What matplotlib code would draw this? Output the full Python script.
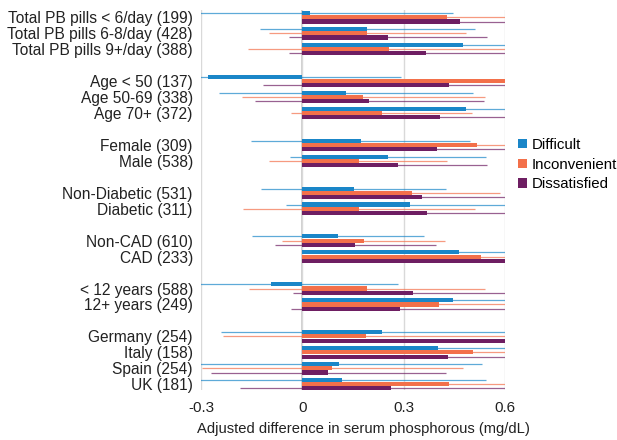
import numpy as np
import matplotlib
matplotlib.use("Agg")
import matplotlib.pyplot as plt

plt.rcParams['font.family'] = ['Liberation Sans', 'DejaVu Sans']

# --- Data ---
groups = [
    ["Total PB pills < 6/day (199)", "Total PB pills 6-8/day (428)", "Total PB pills 9+/day (388)"],
    ["Age < 50 (137)", "Age 50-69 (338)", "Age 70+ (372)"],
    ["Female (309)", "Male (538)"],
    ["Non-Diabetic (531)", "Diabetic (311)"],
    ["Non-CAD (610)", "CAD (233)"],
    ["< 12 years (588)", "12+ years (249)"],
    ["Germany (254)", "Italy (158)", "Spain (254)", "UK (181)"],
]

series = ["Difficult", "Inconvenient", "Dissatisfied"]
colors = ["#1a86c8", "#f3704a", "#6e1e62"]

difficult = [0.022, 0.193, 0.475, -0.279, 0.129, 0.486, 0.174, 0.255, 0.152, 0.319,
             0.106, 0.465, -0.092, 0.448, 0.235, 0.402, 0.110, 0.119]
difficult_lo = [-0.40, -0.126, 0.061, -0.40, -0.248, 0.196, -0.151, -0.038, -0.122, -0.048,
                -0.148, 0.032, -0.40, 0.096, -0.242, 0.017, -0.40, -0.40]
difficult_hi = [0.446, 0.512, 0.80, 0.293, 0.506, 0.80, 0.498, 0.544, 0.426, 0.80,
                0.361, 0.80, 0.285, 0.80, 0.80, 0.80, 0.533, 0.545]

inconvenient = [0.430, 0.193, 0.256, 0.70, 0.181, 0.235, 0.517, 0.167, 0.326, 0.168,
                0.182, 0.529, 0.193, 0.405, 0.190, 0.507, 0.089, 0.436]
inconvenient_lo = [0.10, -0.099, -0.161, 0.30, -0.179, -0.035, 0.20, -0.099, 0.05, -0.177,
                   -0.061, 0.20, -0.159, 0.10, -0.236, 0.20, -0.297, 0.10]
inconvenient_hi = [0.80, 0.486, 0.80, 0.90, 0.541, 0.503, 0.80, 0.429, 0.585, 0.512,
                   0.424, 0.80, 0.543, 0.80, 0.80, 0.80, 0.475, 0.80]

dissatisfied = [0.466, 0.253, 0.366, 0.435, 0.198, 0.407, 0.398, 0.285, 0.354, 0.369,
                0.157, 0.70, 0.329, 0.291, 0.70, 0.431, 0.077, 0.262]
dissatisfied_lo = [0.20, -0.041, -0.040, -0.118, -0.141, 0.10, 0.10, 0.05, 0.10, 0.10,
                   -0.082, 0.30, -0.028, -0.034, 0.30, 0.10, -0.272, -0.186]
dissatisfied_hi = [0.80, 0.548, 0.80, 0.80, 0.538, 0.80, 0.80, 0.547, 0.80, 0.80,
                   0.397, 0.90, 0.80, 0.80, 0.90, 0.80, 0.427, 0.80]

values = [difficult, inconvenient, dissatisfied]
lows = [difficult_lo, inconvenient_lo, dissatisfied_lo]
highs = [difficult_hi, inconvenient_hi, dissatisfied_hi]

# --- row positions with an empty slot between groups ---
labels, ypos = [], []
slot = 0
for g in groups:
    for lab in g:
        labels.append(lab)
        ypos.append(slot)
        slot += 1
    slot += 1
ypos = np.array(ypos, dtype=float)

fig = plt.figure(figsize=(6.17, 4.40), dpi=100)
ax = fig.add_axes([0.326, 0.114, 0.492, 0.863])

offsets = [-0.265, 0.0, 0.265]
for vals, lo, hi, off, col, name in zip(values, lows, highs, offsets, colors, series):
    y = ypos + off
    ax.barh(y, vals, height=0.255, color=col, label=name, zorder=2)
    ax.hlines(y, lo, hi, colors=col, linewidth=0.9, alpha=0.7, zorder=3)

ax.set_xlim(-0.3, 0.6)
ax.set_ylim(23.35, -0.45)
ax.set_xticks([-0.3, 0, 0.3, 0.6])
ax.set_xticklabels(["-0.3", "0", "0.3", "0.6"], fontsize=11, color="#222222")
ax.set_yticks(ypos)
ax.set_yticklabels(labels, fontsize=11.2, color="#222222")
ax.tick_params(axis="both", length=0, pad=6)
ax.tick_params(axis="x", pad=8)
ax.grid(axis="x", color="#d9d9d9", linewidth=1.0, zorder=0)
ax.axvline(0, color="#c8c8c8", linewidth=1.2, zorder=1)
for s in ax.spines.values():
    s.set_visible(False)

ax.set_xlabel("Adjusted difference in serum phosphorous (mg/dL)", fontsize=10.6,
              color="#222222")
ax.xaxis.set_label_coords(0.535, -0.085)

ax.legend(loc="center left", bbox_to_anchor=(1.01, 0.593), frameon=False, fontsize=10.8,
          handlelength=0.6, handleheight=0.6, handletextpad=0.3, labelspacing=0.38,
          borderaxespad=0.3)

fig.savefig("out.png", dpi=100)
